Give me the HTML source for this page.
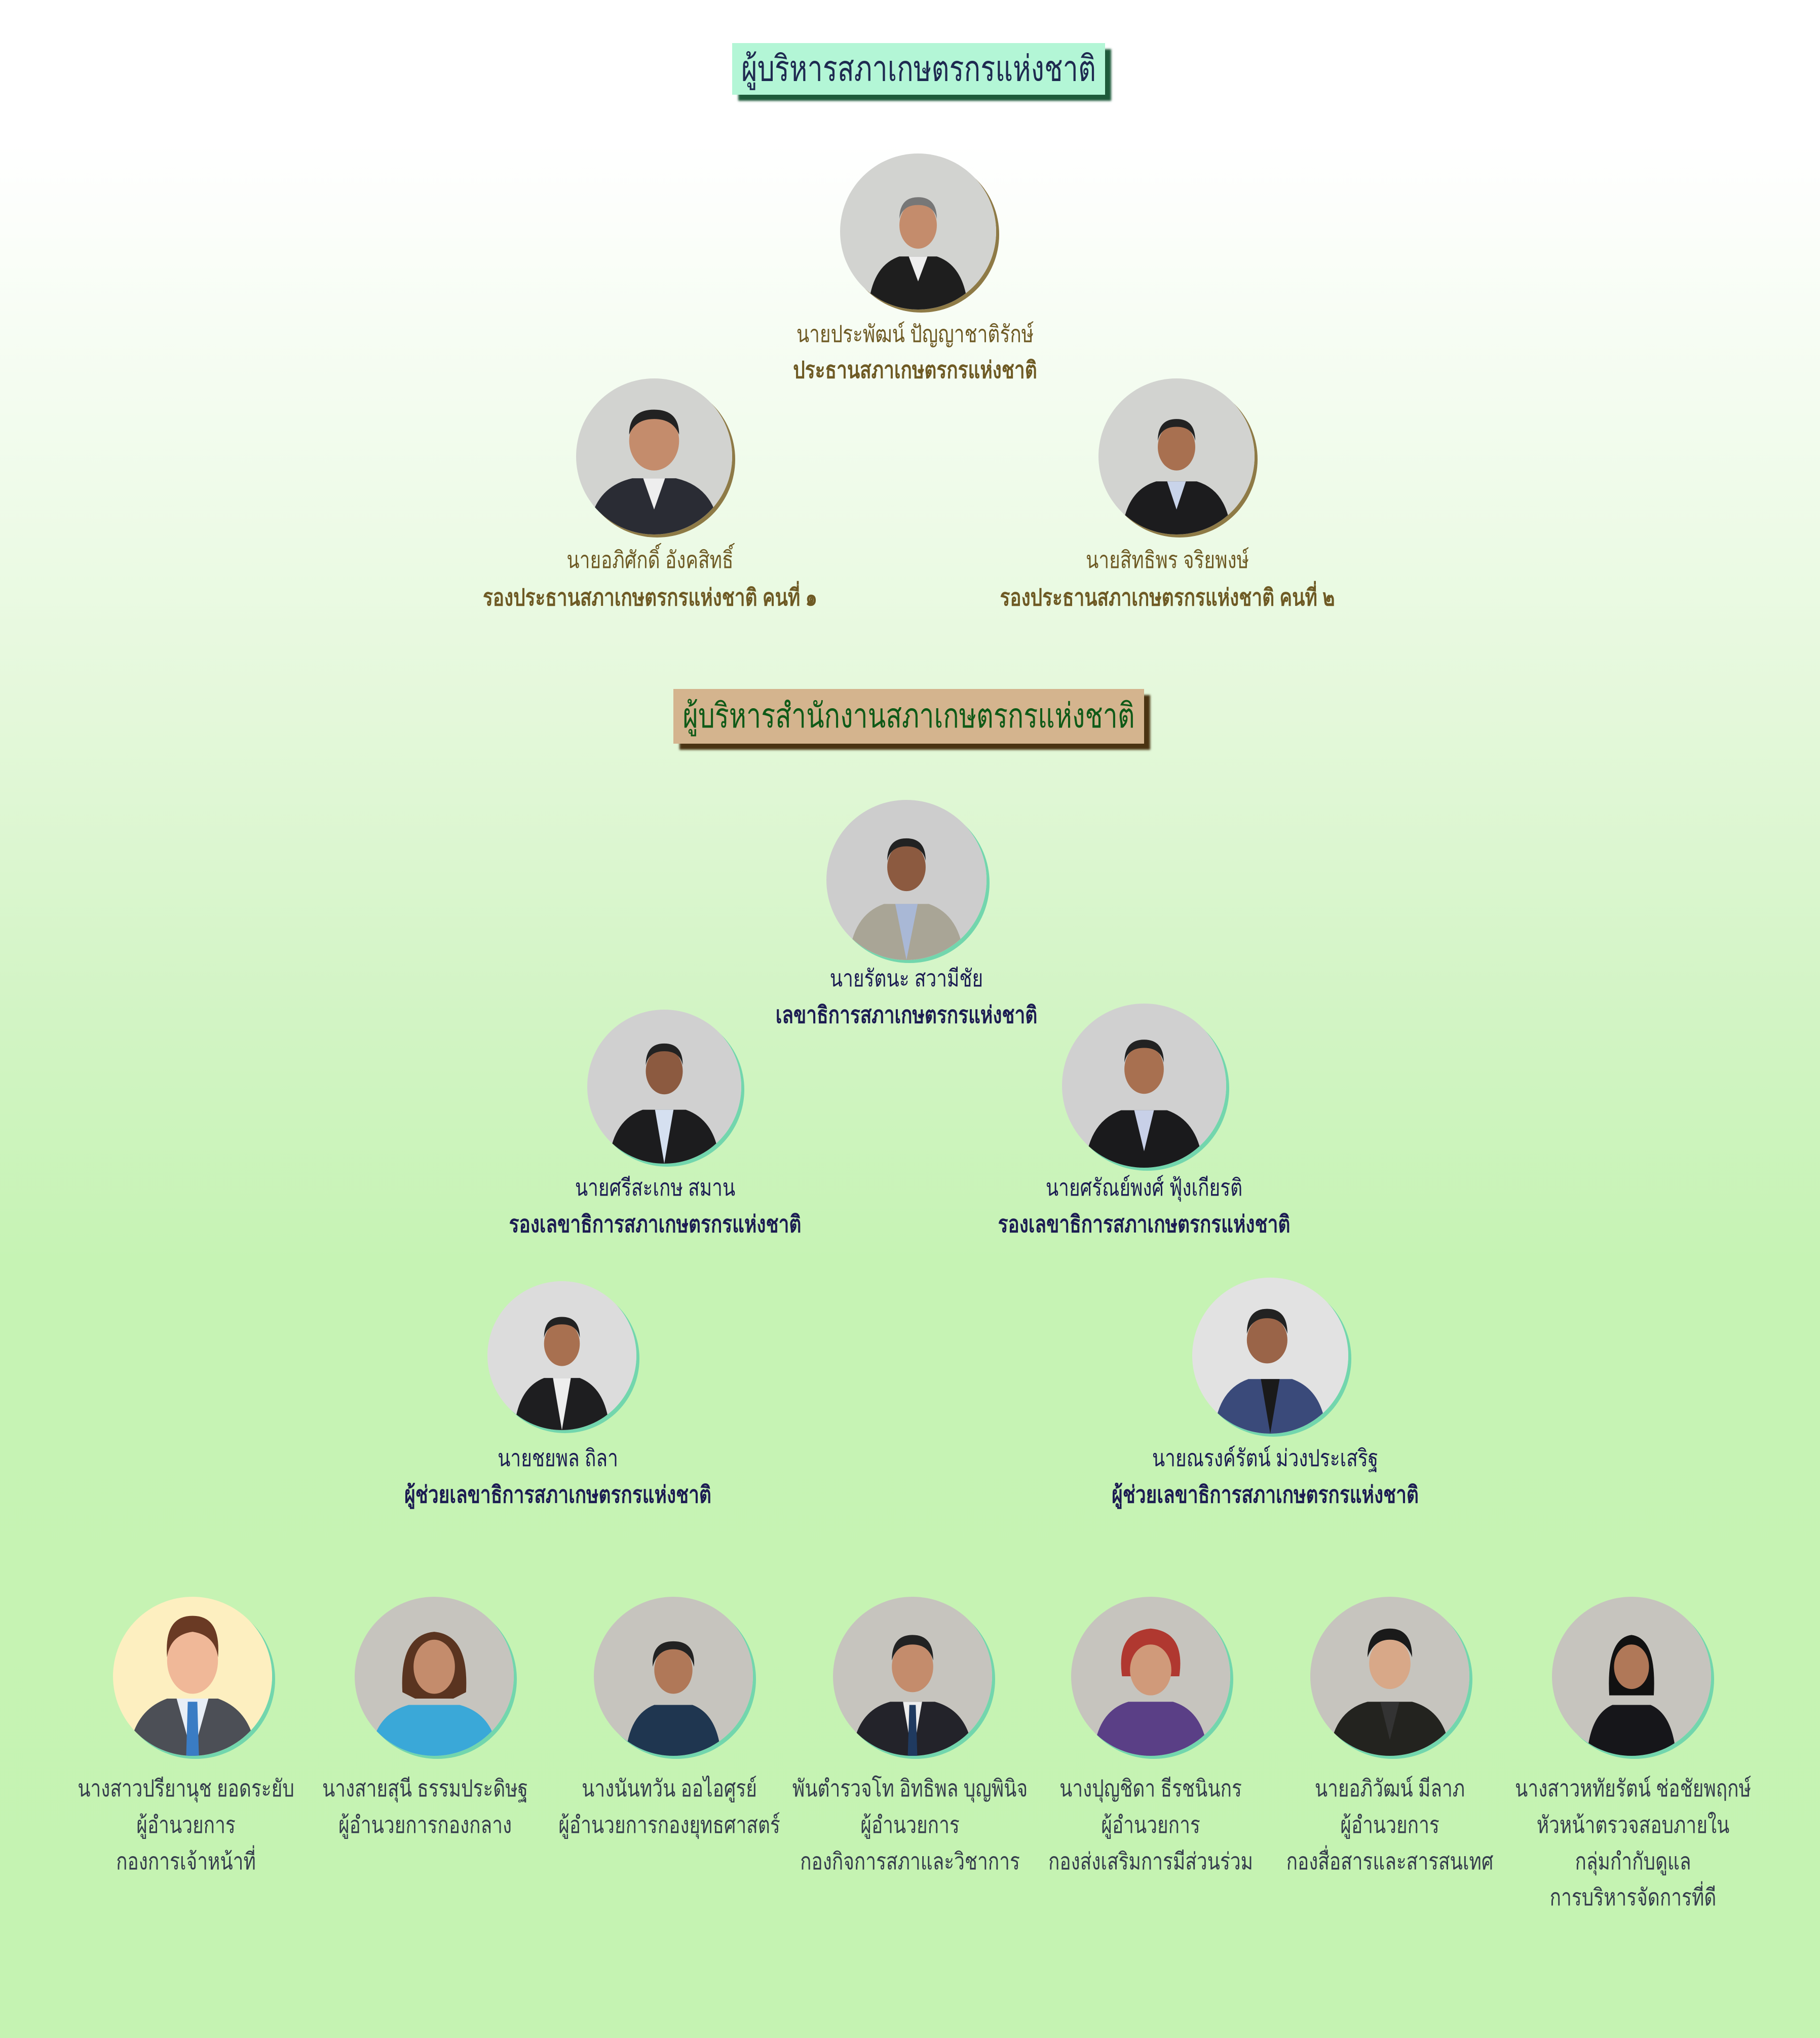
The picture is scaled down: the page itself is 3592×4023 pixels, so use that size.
<!DOCTYPE html>
<html><head><meta charset="utf-8">
<style>
html,body{margin:0;padding:0}
body{width:3592px;height:4023px;position:relative;overflow:hidden;
background:linear-gradient(to bottom,#ffffff 0%,#ffffff 7%,#f3fcef 20%,#e4f8da 35%,#d2f4c4 50%,#c6f3b4 62%,#c5f3b2 100%);
font-family:"Liberation Sans","Noto Sans CJK SC",sans-serif}
.t{position:absolute;white-space:nowrap;transform:translateX(-50%) scaleY(1.25);line-height:60px;height:60px;font-size:37px;text-align:center}
.b{font-weight:bold;font-size:37px}
.g{color:#6e5a24}
.n{color:#1c1c52}
.s{color:#353d4c}
.p{position:absolute;border-radius:50%;overflow:hidden}
.p svg{width:100%;height:100%;display:block}
.gs{box-shadow:6px 6px 0 #8e7a46}
.ms{box-shadow:6px 6px 0 #72d6ad}
.title{position:absolute;text-align:center;white-space:nowrap;line-height:102px}
.title span{display:inline-block;transform:scaleY(1.3)}
</style></head><body>

<div class="title" style="left:1445px;top:85px;width:736px;height:102px;font-size:54px;background:#b3f6d6;color:#1e2a50;box-shadow:12px 12px 4px #1d5a3a"><span>ผู้บริหารสภาเกษตรกรแห่งชาติ</span></div>
<div class="title" style="left:1329px;top:1360px;width:929px;height:108px;line-height:108px;font-size:52px;background:#d4b48e;color:#0f5a17;box-shadow:12px 12px 4px #4a3312"><span>ผู้บริหารสำนักงานสภาเกษตรกรแห่งชาติ</span></div>

<!-- photos: top section -->
<div class="p gs" style="left:1658px;top:303px;width:308px;height:308px"><svg viewBox="0 0 100 100"><rect width="100" height="100" fill="#d2d3d0"/><path d="M18 100 Q20 72 38 66 L62 66 Q80 72 82 100Z" fill="#1e1e1e"/><path d="M44 66 L50 82 L56 66Z" fill="#eee"/><ellipse cx="50" cy="46" rx="12" ry="15" fill="#c48c6c"/><path d="M38 42 Q38 28 50 28 Q62 28 62 42 Q60 33 50 33 Q40 33 38 42Z" fill="#777"/></svg></div>
<div class="p gs" style="left:1137px;top:747px;width:308px;height:308px"><svg viewBox="0 0 100 100"><rect width="100" height="100" fill="#d2d3d0"/><path d="M8 100 Q10 70 36 64 L64 64 Q90 70 92 100Z" fill="#2a2c34"/><path d="M43 64 L50 84 L57 64Z" fill="#eee"/><ellipse cx="50" cy="40" rx="16" ry="19" fill="#c48c6c"/><path d="M34 36 Q34 20 50 20 Q66 20 66 36 Q62 26 50 26 Q38 26 34 36Z" fill="#222"/></svg></div>
<div class="p gs" style="left:2168px;top:747px;width:308px;height:308px"><svg viewBox="0 0 100 100"><rect width="100" height="100" fill="#d2d3d0"/><path d="M15 100 Q17 72 37 66 L63 66 Q83 72 85 100Z" fill="#1c1c1e"/><path d="M44 66 L50 84 L56 66Z" fill="#c9d4ea"/><ellipse cx="50" cy="44" rx="12" ry="15" fill="#a87050"/><path d="M38 40 Q38 26 50 26 Q62 26 62 40 Q60 31 50 31 Q40 31 38 40Z" fill="#222"/></svg></div>

<!-- section 2 -->
<div class="p ms" style="left:1631px;top:1579px;width:316px;height:316px"><svg viewBox="0 0 100 100"><rect width="100" height="100" fill="#cdcdcd"/><path d="M14 100 Q16 72 36 65 L64 65 Q84 72 86 100Z" fill="#a9a596"/><path d="M43 65 L50 100 L57 65Z" fill="#a9b8d6"/><ellipse cx="50" cy="42" rx="12" ry="15" fill="#8c5a40"/><path d="M38 38 Q38 24 50 24 Q62 24 62 38 Q60 29 50 29 Q40 29 38 38Z" fill="#222"/></svg></div>
<div class="p ms" style="left:1159px;top:1993px;width:304px;height:304px"><svg viewBox="0 0 100 100"><rect width="100" height="100" fill="#d0d0d0"/><path d="M14 100 Q16 72 36 65 L64 65 Q84 72 86 100Z" fill="#1c1c1e"/><path d="M44 65 L50 100 L56 65Z" fill="#d5e0f0"/><ellipse cx="50" cy="40" rx="12" ry="15" fill="#8c5a40"/><path d="M38 36 Q38 22 50 22 Q62 22 62 36 Q60 27 50 27 Q40 27 38 36Z" fill="#222"/></svg></div>
<div class="p ms" style="left:2096px;top:1981px;width:324px;height:324px"><svg viewBox="0 0 100 100"><rect width="100" height="100" fill="#d0d0d0"/><path d="M14 100 Q16 72 36 65 L64 65 Q84 72 86 100Z" fill="#1a1a1c"/><path d="M44 65 L50 90 L56 65Z" fill="#c8d0e8"/><ellipse cx="50" cy="40" rx="12" ry="15" fill="#a87050"/><path d="M38 36 Q38 22 50 22 Q62 22 62 36 Q60 27 50 27 Q40 27 38 36Z" fill="#222"/></svg></div>
<div class="p ms" style="left:962px;top:2529px;width:294px;height:294px"><svg viewBox="0 0 100 100"><rect width="100" height="100" fill="#dcdcdc"/><path d="M18 100 Q20 72 38 65 L62 65 Q80 72 82 100Z" fill="#1e1e20"/><path d="M44 65 L50 100 L56 65Z" fill="#eee"/><ellipse cx="50" cy="42" rx="12" ry="15" fill="#a87050"/><path d="M38 38 Q38 24 50 24 Q62 24 62 38 Q60 29 50 29 Q40 29 38 38Z" fill="#222"/></svg></div>
<div class="p ms" style="left:2353px;top:2522px;width:308px;height:308px"><svg viewBox="0 0 100 100"><rect width="100" height="100" fill="#e2e2e2"/><path d="M14 100 Q16 72 36 65 L64 65 Q84 72 86 100Z" fill="#3a4a7a"/><path d="M44 65 L50 100 L56 65Z" fill="#1a1a1a"/><ellipse cx="48" cy="40" rx="13" ry="15" fill="#9a6448"/><path d="M35 36 Q35 20 48 20 Q61 20 61 36 Q58 26 48 26 Q38 26 35 36Z" fill="#222"/></svg></div>

<!-- bottom row -->
<div class="p ms" style="left:223px;top:3152px;width:314px;height:314px"><svg viewBox="0 0 100 100"><rect width="100" height="100" fill="#fdefc0"/><path d="M10 100 Q12 72 34 64 L66 64 Q88 72 90 100Z" fill="#4c4f56"/><path d="M40 64 L50 100 L60 64Z" fill="#e8eef6"/><path d="M47 66 L53 66 L54 100 L46 100Z" fill="#3a7cc4"/><ellipse cx="50" cy="40" rx="16" ry="21" fill="#f0b898"/><path d="M34 38 Q32 12 50 12 Q68 12 66 38 Q64 24 50 22 Q36 24 34 38Z" fill="#6a3a24"/></svg></div>
<div class="p ms" style="left:700px;top:3152px;width:314px;height:314px"><svg viewBox="0 0 100 100"><rect width="100" height="100" fill="#c6c4be"/><path d="M10 100 Q12 74 34 68 L66 68 Q88 74 90 100Z" fill="#3aa8d8"/><path d="M30 60 Q28 24 50 22 Q72 24 70 60 L62 64 L38 64Z" fill="#5a3420"/><ellipse cx="50" cy="44" rx="13" ry="17" fill="#c48c6c"/></svg></div>
<div class="p ms" style="left:1172px;top:3152px;width:314px;height:314px"><svg viewBox="0 0 100 100"><rect width="100" height="100" fill="#c6c4be"/><path d="M20 100 Q22 74 38 68 L62 68 Q78 74 80 100Z" fill="#1f3650"/><ellipse cx="50" cy="46" rx="12" ry="15" fill="#b07858"/><path d="M37 44 Q36 28 50 28 Q64 28 63 44 Q60 33 50 33 Q40 33 37 44Z" fill="#222"/></svg></div>
<div class="p ms" style="left:1644px;top:3152px;width:314px;height:314px"><svg viewBox="0 0 100 100"><rect width="100" height="100" fill="#c6c4be"/><path d="M12 100 Q14 72 36 66 L64 66 Q86 72 88 100Z" fill="#23232a"/><path d="M44 66 L50 100 L56 66Z" fill="#eee"/><path d="M48 68 L52 68 L53 100 L47 100Z" fill="#1f3a60"/><ellipse cx="50" cy="44" rx="13" ry="16" fill="#c48c6c"/><path d="M37 40 Q37 24 50 24 Q63 24 63 40 Q60 30 50 30 Q40 30 37 40Z" fill="#222"/></svg></div>
<div class="p ms" style="left:2114px;top:3152px;width:314px;height:314px"><svg viewBox="0 0 100 100"><rect width="100" height="100" fill="#c6c4be"/><path d="M14 100 Q16 72 36 66 L64 66 Q84 72 86 100Z" fill="#5a3f86"/><path d="M32 50 Q28 22 50 20 Q72 22 68 50 Z" fill="#b03830"/><ellipse cx="50" cy="46" rx="13" ry="16" fill="#d09a7a"/></svg></div>
<div class="p ms" style="left:2586px;top:3152px;width:314px;height:314px"><svg viewBox="0 0 100 100"><rect width="100" height="100" fill="#c6c4be"/><path d="M12 100 Q14 72 36 66 L64 66 Q86 72 88 100Z" fill="#23231f"/><path d="M44 66 L50 90 L56 66Z" fill="#333"/><ellipse cx="50" cy="42" rx="13" ry="16" fill="#d8a888"/><path d="M36 38 Q36 20 50 20 Q64 20 64 38 Q60 27 50 27 Q40 27 36 38Z" fill="#1a1a1a"/></svg></div>
<div class="p ms" style="left:3063px;top:3152px;width:314px;height:314px"><svg viewBox="0 0 100 100"><rect width="100" height="100" fill="#c6c4be"/><path d="M22 100 Q24 74 38 68 L62 68 Q76 74 78 100Z" fill="#16161a"/><path d="M36 62 Q34 26 50 24 Q66 26 64 62Z" fill="#111"/><ellipse cx="50" cy="44" rx="11" ry="14" fill="#b07858"/></svg></div>

<!-- labels top -->
<div class="t g" style="left:1806px;top:630px">นายประพัฒน์ ปัญญาชาติรักษ์</div>
<div class="t g b" style="left:1806px;top:701px">ประธานสภาเกษตรกรแห่งชาติ</div>
<div class="t g" style="left:1283px;top:1076px">นายอภิศักดิ์ อังคสิทธิ์</div>
<div class="t g b" style="left:1283px;top:1150px">รองประธานสภาเกษตรกรแห่งชาติ คนที่ ๑</div>
<div class="t g" style="left:2304px;top:1076px">นายสิทธิพร จริยพงษ์</div>
<div class="t g b" style="left:2304px;top:1150px">รองประธานสภาเกษตรกรแห่งชาติ คนที่ ๒</div>

<!-- labels section 2 -->
<div class="t n" style="left:1789px;top:1902px">นายรัตนะ สวามีชัย</div>
<div class="t n b" style="left:1789px;top:1974px">เลขาธิการสภาเกษตรกรแห่งชาติ</div>
<div class="t n" style="left:1293px;top:2315px">นายศรีสะเกษ สมาน</div>
<div class="t n b" style="left:1293px;top:2387px">รองเลขาธิการสภาเกษตรกรแห่งชาติ</div>
<div class="t n" style="left:2258px;top:2315px">นายศรัณย์พงศ์ ฟุ้งเกียรติ</div>
<div class="t n b" style="left:2258px;top:2387px">รองเลขาธิการสภาเกษตรกรแห่งชาติ</div>
<div class="t n" style="left:1101px;top:2849px">นายชยพล ถิลา</div>
<div class="t n b" style="left:1101px;top:2921px">ผู้ช่วยเลขาธิการสภาเกษตรกรแห่งชาติ</div>
<div class="t n" style="left:2497px;top:2849px">นายณรงค์รัตน์ ม่วงประเสริฐ</div>
<div class="t n b" style="left:2497px;top:2921px">ผู้ช่วยเลขาธิการสภาเกษตรกรแห่งชาติ</div>

<!-- labels bottom -->
<div class="t s" style="left:367px;top:3501px">นางสาวปรียานุช ยอดระยับ</div>
<div class="t s" style="left:367px;top:3573px">ผู้อำนวยการ</div>
<div class="t s" style="left:367px;top:3645px">กองการเจ้าหน้าที่</div>
<div class="t s" style="left:839px;top:3501px">นางสายสุนี ธรรมประดิษฐ</div>
<div class="t s" style="left:839px;top:3573px">ผู้อำนวยการกองกลาง</div>
<div class="t s" style="left:1321px;top:3501px">นางนันทวัน ออไอศูรย์</div>
<div class="t s" style="left:1321px;top:3573px">ผู้อำนวยการกองยุทธศาสตร์</div>
<div class="t s" style="left:1796px;top:3501px">พันตำรวจโท อิทธิพล บุญพินิจ</div>
<div class="t s" style="left:1796px;top:3573px">ผู้อำนวยการ</div>
<div class="t s" style="left:1796px;top:3645px">กองกิจการสภาและวิชาการ</div>
<div class="t s" style="left:2271px;top:3501px">นางปุญชิดา ธีรชนินกร</div>
<div class="t s" style="left:2271px;top:3573px">ผู้อำนวยการ</div>
<div class="t s" style="left:2271px;top:3645px">กองส่งเสริมการมีส่วนร่วม</div>
<div class="t s" style="left:2743px;top:3501px">นายอภิวัฒน์ มีลาภ</div>
<div class="t s" style="left:2743px;top:3573px">ผู้อำนวยการ</div>
<div class="t s" style="left:2743px;top:3645px">กองสื่อสารและสารสนเทศ</div>
<div class="t s" style="left:3223px;top:3501px">นางสาวหทัยรัตน์ ช่อชัยพฤกษ์</div>
<div class="t s" style="left:3223px;top:3573px">หัวหน้าตรวจสอบภายใน</div>
<div class="t s" style="left:3223px;top:3645px">กลุ่มกำกับดูแล</div>
<div class="t s" style="left:3223px;top:3716px">การบริหารจัดการที่ดี</div>

</body></html>
